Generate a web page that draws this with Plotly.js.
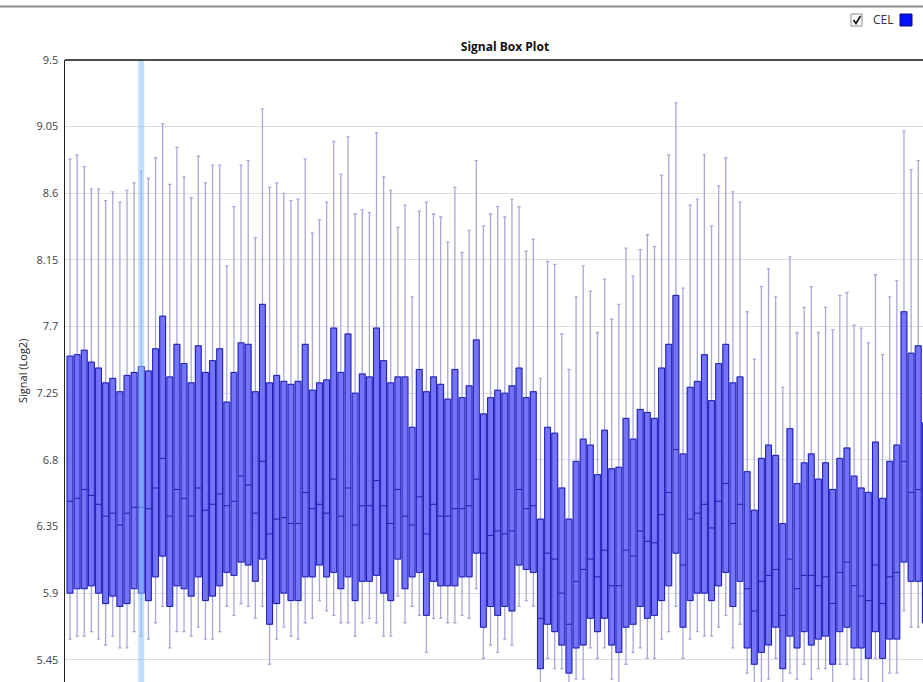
<!DOCTYPE html>
<html>
<head>
<meta charset="utf-8">
<script src="https://cdn.plot.ly/plotly-3.0.1.min.js"></script>
<style>
html,body{margin:0;padding:0;background:#fff;}
#chart{width:923px;height:682px;}
</style>
</head>
<body>
<div id="chart"></div>
<script>
// Per-sample box statistics (Signal, Log2)
var upperWhisker = [8.83,8.86,8.78,8.63,8.63,8.55,8.61,8.54,8.62,8.67,
  8.75,8.70,8.84,9.07,8.66,8.91,8.71,8.57,8.85,8.67,
  8.79,8.79,8.11,8.51,8.79,8.82,8.30,9.17,8.64,8.67,
  8.60,8.55,8.56,8.83,8.33,8.42,8.54,8.95,8.73,8.98,
  8.46,8.49,8.47,9.01,8.71,8.62,8.37,8.52,7.90,8.48,
  8.54,8.46,8.44,8.27,8.64,8.20,8.35,8.82,8.38,8.46,
  8.51,8.44,8.56,8.51,8.21,8.29,7.35,8.14,8.12,7.65,
  7.41,7.90,8.11,7.94,7.66,8.02,7.75,7.85,8.23,8.04,
  8.22,8.32,8.24,8.72,8.86,9.21,7.96,8.52,8.56,8.86,
  8.38,8.65,8.84,8.61,8.54,7.80,7.48,7.97,8.09,7.90,
  7.29,8.17,7.66,7.83,7.97,7.66,7.83,7.68,7.91,7.93,
  7.71,7.69,7.59,8.05,7.51,7.90,8.01,9.02,8.76,8.82,
  8.40];
var q3Values = [7.50,7.51,7.54,7.46,7.42,7.32,7.35,7.26,7.37,7.39,
  7.43,7.40,7.55,7.77,7.36,7.58,7.45,7.32,7.57,7.39,
  7.47,7.55,7.19,7.39,7.59,7.58,7.26,7.85,7.32,7.37,
  7.33,7.31,7.33,7.58,7.27,7.32,7.34,7.69,7.39,7.65,
  7.25,7.38,7.36,7.69,7.47,7.32,7.36,7.36,7.02,7.41,
  7.26,7.36,7.31,7.21,7.41,7.22,7.30,7.61,7.11,7.22,
  7.27,7.25,7.30,7.42,7.22,7.26,6.40,7.02,6.98,6.61,
  6.40,6.79,6.94,6.90,6.70,7.00,6.74,6.75,7.08,6.94,
  7.14,7.12,7.08,7.42,7.58,7.91,6.84,7.29,7.33,7.51,
  7.20,7.45,7.58,7.32,7.36,6.72,6.46,6.81,6.90,6.83,
  6.37,7.01,6.64,6.78,6.84,6.67,6.78,6.60,6.81,6.88,
  6.69,6.61,6.58,6.92,6.54,6.79,6.90,7.80,7.52,7.57,
  7.05];
var medianValues = [6.52,6.54,6.60,6.56,6.50,6.42,6.44,6.36,6.44,6.48,
  6.48,6.47,6.61,6.81,6.42,6.60,6.54,6.42,6.61,6.46,
  6.50,6.57,6.49,6.52,6.69,6.63,6.44,6.79,6.30,6.40,
  6.41,6.37,6.37,6.58,6.47,6.50,6.44,6.67,6.42,6.61,
  6.36,6.49,6.49,6.66,6.49,6.37,6.60,6.42,6.36,6.55,
  6.30,6.50,6.42,6.42,6.47,6.47,6.49,6.67,6.17,6.29,
  6.32,6.30,6.32,6.60,6.47,6.49,5.73,6.17,6.13,5.90,
  5.69,5.98,6.06,6.13,6.01,6.19,5.95,5.95,6.19,6.15,
  6.32,6.25,6.24,6.43,6.58,6.87,6.09,6.40,6.44,6.50,
  6.34,6.52,6.64,6.37,6.50,5.93,5.78,5.98,6.02,6.06,
  5.75,6.13,5.93,6.02,6.02,5.95,6.01,5.83,6.04,6.11,
  5.95,5.88,5.85,6.09,5.83,6.01,6.04,6.79,6.58,6.60,
  6.45];
var q1Values = [5.90,5.93,5.93,5.95,5.90,5.83,5.88,5.81,5.83,5.93,
  5.90,5.85,6.01,6.15,5.81,5.95,5.93,5.88,6.01,5.85,
  5.88,5.95,6.04,6.02,6.11,6.09,5.98,6.13,5.69,5.83,
  5.90,5.85,5.85,6.01,6.01,6.09,6.01,6.04,5.93,6.01,
  5.85,5.98,5.98,6.02,5.90,5.85,6.13,5.93,6.01,6.04,
  5.75,5.98,5.95,5.95,5.95,6.01,6.01,6.17,5.67,5.81,
  5.75,5.81,5.78,6.09,6.06,6.04,5.39,5.69,5.64,5.55,
  5.36,5.53,5.55,5.73,5.64,5.73,5.55,5.50,5.67,5.69,
  5.81,5.73,5.75,5.85,5.95,6.17,5.67,5.85,5.90,5.90,
  5.85,5.95,6.04,5.81,5.98,5.53,5.42,5.50,5.55,5.67,
  5.39,5.61,5.53,5.64,5.55,5.59,5.61,5.42,5.64,5.67,
  5.53,5.53,5.46,5.64,5.46,5.59,5.59,6.11,5.98,5.98,
  5.70];
var lowerWhisker = [5.59,5.61,5.61,5.64,5.59,5.55,5.61,5.53,5.53,5.64,
  5.61,5.59,5.70,5.81,5.53,5.64,5.64,5.61,5.67,5.59,
  5.59,5.64,5.81,5.75,5.83,5.81,5.73,5.81,5.42,5.59,
  5.67,5.61,5.59,5.70,5.73,5.85,5.78,5.75,5.70,5.70,
  5.61,5.70,5.73,5.70,5.61,5.61,5.88,5.70,5.81,5.75,
  5.50,5.73,5.73,5.70,5.70,5.75,5.73,5.93,5.46,5.55,
  5.50,5.59,5.55,5.81,5.85,5.81,5.22,5.46,5.39,5.39,
  5.22,5.32,5.32,5.53,5.46,5.53,5.32,5.27,5.42,5.50,
  5.53,5.46,5.46,5.59,5.64,5.81,5.46,5.59,5.64,5.61,
  5.61,5.67,5.75,5.53,5.69,5.36,5.27,5.27,5.32,5.46,
  5.22,5.36,5.32,5.42,5.32,5.39,5.39,5.22,5.42,5.42,
  5.32,5.32,5.22,5.46,5.22,5.36,5.36,5.78,5.67,5.67,
  5.45];
var yTickValues = [5.45,5.9,6.35,6.8,7.25,7.7,8.15,8.6,9.05,9.5];
var yTickLabels = ['5.45','5.9','6.35','6.8','7.25','7.7','8.15','8.6','9.05','9.5'];
var selectedSample = 10;

var samplePos = upperWhisker.map(function(_, i){ return i; });

var whiskerTrace = {
  type:'box', x:samplePos,
  q1:q1Values, median:medianValues, q3:q3Values,
  lowerfence:lowerWhisker, upperfence:upperWhisker,
  boxpoints:false, width:0.82, whiskerwidth:0.55,
  line:{color:'#a8a8d8', width:1.3},
  fillcolor:'rgba(0,0,0,0)', hoverinfo:'skip', showlegend:false
};
var boxTrace = {
  type:'box', x:samplePos,
  q1:q1Values, median:medianValues, q3:q3Values,
  lowerfence:q1Values, upperfence:q3Values,
  boxpoints:false, width:0.82, whiskerwidth:0,
  line:{color:'#1c1cb8', width:1},
  fillcolor:'#7474fb', hoverinfo:'skip', showlegend:false
};

var layout = {
  width:923, height:682,
  margin:{l:65, r:0, t:60, b:0, pad:0},
  paper_bgcolor:'#ffffff', plot_bgcolor:'#ffffff',
  boxmode:'overlay',
  showlegend:false,
  font:{family:'Noto Sans, Open Sans, sans-serif', size:11, color:'#333'},
  title:{text:'<b>Signal Box Plot</b>', xref:'container', yref:'container',
         x:505/923, y:1-47/682, xanchor:'center', yanchor:'middle',
         font:{family:'Open Sans, Noto Sans, sans-serif', size:12, color:'#111'}},
  xaxis:{range:[-0.70,119.67], showgrid:false, zeroline:false, showline:false,
         showticklabels:false, ticks:'', fixedrange:true},
  yaxis:{range:[5.30,9.5], tickvals:yTickValues, ticktext:yTickLabels,
         showgrid:true, gridcolor:'#dedede', gridwidth:1, zeroline:false,
         showline:true, linecolor:'#222', linewidth:1.5, ticks:'',
         tickfont:{family:'Open Sans, Noto Sans, sans-serif', size:11, color:'#444'},
         ticklabelstandoff:3, fixedrange:true},
  shapes:[
    {type:'rect', xref:'x', yref:'paper', x0:selectedSample-0.42, x1:selectedSample+0.42, y0:0, y1:1,
     fillcolor:'rgba(140,198,255,0.55)', line:{width:0}, layer:'above'},
    {type:'line', xref:'paper', yref:'paper', x0:0, x1:1, y0:1, y1:1, line:{color:'#111', width:1.5}},
    {type:'line', xref:'paper', yref:'paper', x0:-65/858, x1:1, y0:1+53.5/622, y1:1+53.5/622,
     line:{color:'#8a8a8a', width:2}},
    {type:'rect', xref:'paper', yref:'paper', x0:(851-65)/858, x1:(862-65)/858,
     y0:1+(60-26)/622, y1:1+(60-14)/622, fillcolor:'#fff', line:{color:'#8c8c8c', width:1}},
    {type:'path', xref:'paper', yref:'paper',
     path:'M '+((853.5-65)/858)+' '+(1+(60-20)/622)+' L '+((856-65)/858)+' '+(1+(60-23.5)/622)+' L '+((860.5-65)/858)+' '+(1+(60-16)/622),
     line:{color:'#111', width:1.6}},
    {type:'rect', xref:'paper', yref:'paper', x0:(900-65)/858, x1:(912-65)/858,
     y0:1+(60-26)/622, y1:1+(60-14)/622, fillcolor:'#0010ff', line:{color:'#0a0a70', width:1}}
  ],
  annotations:[
    {text:'Signal (Log2)', xref:'paper', yref:'paper', x:(22-65)/858, y:0.5,
     xanchor:'center', yanchor:'middle', textangle:-90, showarrow:false,
     font:{family:'Open Sans, Noto Sans, sans-serif', size:11, color:'#222'}},
    {text:'CEL', xref:'paper', yref:'paper', x:(871-65)/858, y:1+(60-20)/622,
     xanchor:'left', yanchor:'middle', showarrow:false,
     font:{family:'Open Sans, Noto Sans, sans-serif', size:12, color:'#333'}}
  ]
};

Plotly.newPlot('chart', [whiskerTrace, boxTrace], layout, {staticPlot:true, displayModeBar:false});
</script>
</body>
</html>
